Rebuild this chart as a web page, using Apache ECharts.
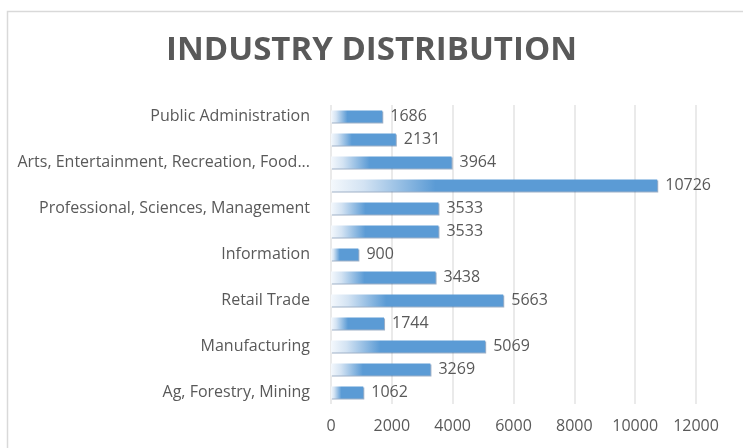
<!DOCTYPE html>
<html>
<head>
<meta charset="utf-8">
<script src="https://cdn.jsdelivr.net/npm/echarts@6/dist/echarts.min.js"></script>
<style>
  html, body { margin: 0; padding: 0; background: #fff; }
  #chart { width: 743px; height: 448px; }
</style>
</head>
<body>
<div id="chart"></div>
<script>
// bottom -> top, same order as the bars
var industries = [
  'Ag, Forestry, Mining',
  'Construction',
  'Manufacturing',
  'Wholesale Trade',
  'Retail Trade',
  'Transportation, Warehousing, Utilities',
  'Information',
  'Finance, Insurance, Real Estate',
  'Professional, Sciences, Management',
  'Educational, Health, Social Services',
  'Arts, Entertainment, Recreation, Food Services',
  'Other Services',
  'Public Administration'
];
var workers = [1062, 3269, 5069, 1744, 5663, 3438, 900, 3533, 3533, 10726, 3964, 2131, 1686];
var xTicks = [0, 2000, 4000, 6000, 8000, 10000, 12000];

var grey = '#595959';
var font = 'Open Sans';

var chart = echarts.init(document.getElementById('chart'));

var option = {
  animation: false,
  textStyle: { fontFamily: font },
  graphic: [{
    type: 'rect',
    left: 5, top: 9,
    shape: { width: 800, height: 500 },
    style: { fill: 'none', stroke: '#d9d9d9', lineWidth: 1.5 },
    silent: true
  }],
  title: {
    text: 'INDUSTRY DISTRIBUTION',
    left: 'center',
    top: 29,
    textStyle: { color: grey, fontSize: 33, fontWeight: 'bold', fontFamily: font }
  },
  grid: { left: 331, right: 47, top: 105, bottom: 44 },
  xAxis: {
    type: 'value',
    min: xTicks[0],
    max: xTicks[xTicks.length - 1],
    interval: 2000,
    axisLine: { show: false },
    axisTick: { show: false },
    axisLabel: { color: grey, fontSize: 16, margin: 14, formatter: function (v) { return String(v); } },
    splitLine: { lineStyle: { color: '#e3e3e3', width: 1.5 } }
  },
  yAxis: {
    type: 'category',
    data: industries,
    axisLine: { show: false },
    axisTick: { show: false },
    axisLabel: {
      interval: 1,
      color: grey,
      fontSize: 16,
      margin: 21,
      formatter: function (v) {
        return v.length > 38 ? v.slice(0, 37) + '...' : v;
      }
    }
  },
  series: [{
    type: 'bar',
    data: workers,
    barWidth: 12,
    itemStyle: {
      color: new echarts.graphic.LinearGradient(0, 0, 1, 0, [
        { offset: 0, color: '#f4f8fc' },
        { offset: 0.1, color: '#d3e3f3' },
        { offset: 0.32, color: '#5b9bd5' },
        { offset: 1, color: '#5b9bd5' }
      ]),
      shadowColor: 'rgba(40,80,130,0.45)',
      shadowOffsetX: 1,
      shadowOffsetY: 1,
      shadowBlur: 0
    },
    label: {
      show: true,
      position: 'right',
      distance: 8,
      color: grey,
      fontSize: 16
    }
  }]
};

chart.setOption(option);
</script>
</body>
</html>
